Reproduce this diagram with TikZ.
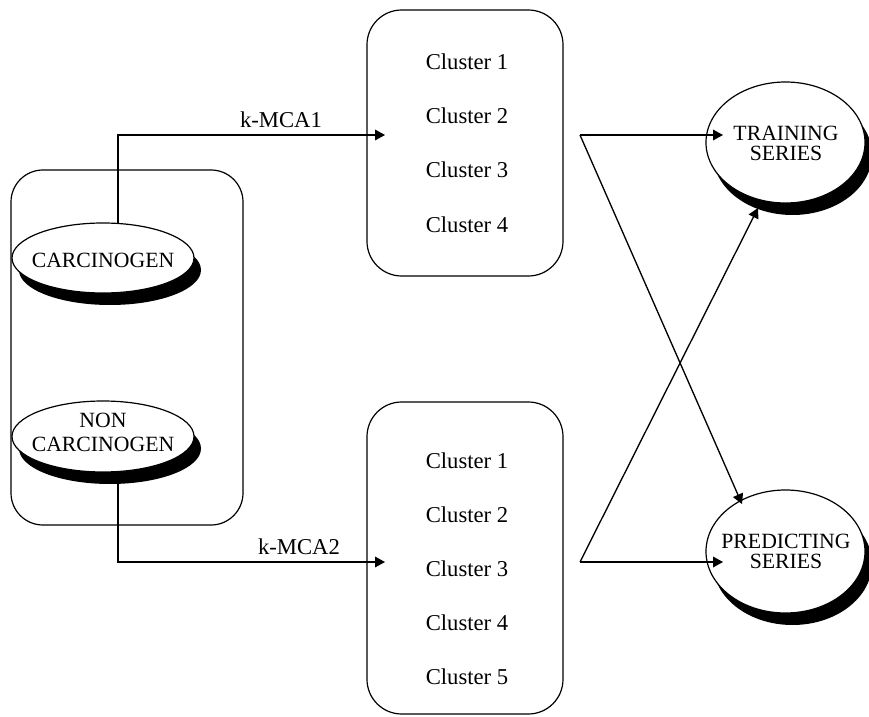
\documentclass[tikz,border=0pt]{standalone}
\usepackage{fontspec}
\setmainfont{Liberation Serif}
\usetikzlibrary{arrows.meta,shapes.geometric,shadows}
\pgfdeclarelayer{bg}
\pgfsetlayers{bg,main}
\begin{document}
\begin{tikzpicture}[x=0.75pt,y=-0.75pt,
  arr/.style={line width=1pt,-{Triangle[length=7.5pt,width=8pt]}},
  rbox/.style={draw,rectangle,line width=0.9pt,inner sep=0pt,outer sep=0pt},
  oval/.style={draw,ellipse,fill=white,inner sep=0pt,outer sep=0pt,line width=0.9pt,
     drop shadow={shadow xshift=5.25pt,shadow yshift=-9pt,fill=black,opacity=1}},
  ctext/.style={font=\fontsize{17}{20}\selectfont,inner sep=0pt,anchor=base},
  etext/.style={font=\fontsize{16.3}{15.5}\selectfont,inner sep=0pt,align=center},
]
\useasboundingbox (0,0) rectangle (869,717);

% boxes
\node[rbox,rounded corners=24pt,minimum width=232*0.75pt,minimum height=355*0.75pt] (src) at (127,347.5) {};
\node[rbox,rounded corners=26pt,minimum width=196*0.75pt,minimum height=266*0.75pt] (mcaA) at (465,143) {};
\node[rbox,rounded corners=26pt,minimum width=196*0.75pt,minimum height=312*0.75pt] (mcaB) at (465,558) {};

% cluster texts
\foreach \i/\y in {1/70,2/124,3/178,4/233}
  \node[ctext] (a\i) at (467,\y) {Cluster \i};
\foreach \i/\y in {1/468,2/522,3/576,4/630,5/684}
  \node[ctext] (b\i) at (467,\y) {Cluster \i};

% ellipses
\node[oval,minimum width=182*0.75pt,minimum height=70*0.75pt] (carc) at (103,258) {};
\node[etext] (carcT) at (103,260) {CARCINOGEN};
\node[oval,minimum width=182*0.75pt,minimum height=71*0.75pt] (ncarc) at (103,436.5) {};
\node[etext,font=\fontsize{16.3}{18.4}\selectfont] (ncarcT) at (103,432.5) {NON\\CARCINOGEN};
\node[oval,minimum width=159*0.75pt,minimum height=121*0.75pt] (train) at (785.5,142.5) {};
\node[etext] (trainT) at (786,143.5) {TRAINING\\SERIES};
\node[oval,minimum width=159*0.75pt,minimum height=123*0.75pt] (pred) at (785.5,551.5) {};
\node[etext] (predT) at (786,551.5) {PREDICTING\\SERIES};

% labels
\node[ctext] (kA) at (281,128) {k-MCA1};
\node[ctext] (kB) at (299,554) {k-MCA2};

% coordinates
\coordinate (cA) at (118,135);
\coordinate (inA) at (385,135);
\coordinate (cB) at (118,562);
\coordinate (inB) at (385,562);
\coordinate (sA) at (580,135);
\coordinate (sB) at (580,562);
\coordinate (tA) at (723,135);
\coordinate (tB) at (723,562);
\coordinate (pIn) at (742,504);
\coordinate (tIn) at (758,208);

\begin{pgfonlayer}{bg}
\draw[arr] (carc.center -| cA) -- (cA) -- (inA);
\draw[arr] (ncarc.center -| cB) -- (cB) -- (inB);
\end{pgfonlayer}

\draw[arr] (sA) -- (tA);
\draw[arr] (sA) -- (pIn);
\draw[arr] (sB) -- (tB);
\draw[arr] (sB) -- (tIn);
\end{tikzpicture}
\end{document}
